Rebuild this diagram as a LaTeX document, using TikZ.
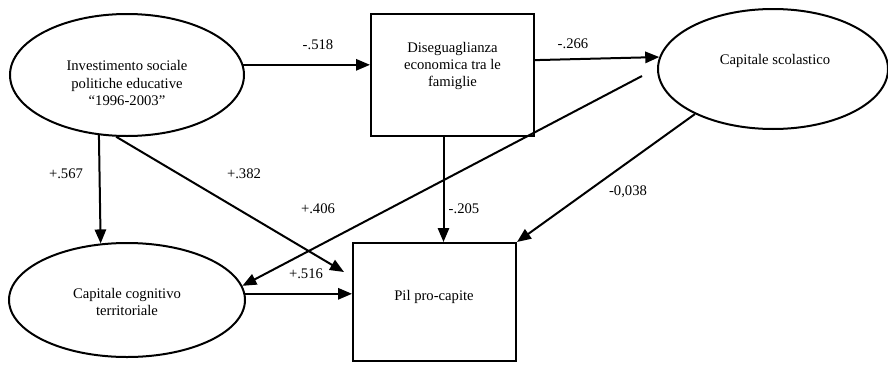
\documentclass[tikz,border=0pt]{standalone}
\usepackage{fontspec}
\setmainfont{Liberation Serif}
\usetikzlibrary{shapes.geometric,arrows.meta,calc}
\begin{document}
\begin{tikzpicture}[x=0.75pt,y=-0.75pt,
  every node/.style={font=\fontsize{11}{12.8}\selectfont},
  ell/.style={draw,ellipse,line width=1.5pt,inner sep=0pt},
  boxx/.style={draw,rectangle,line width=1.5pt,inner sep=0pt},
  txt/.style={align=center,inner sep=0pt},
  lab/.style={inner sep=0pt},
  arr/.style={line width=1.5pt,-{Triangle[length=10.5pt,width=8.5pt]}}]
\useasboundingbox (0,0) rectangle (888,364);
% shapes
\node[ell,minimum width=175.5pt,minimum height=91.5pt] (e1) at (127,75) {};
\node[txt] (t1) at (127,83) {Investimento sociale\\politiche educative\\``1996-2003''};
\node[boxx,minimum width=122.25pt,minimum height=91.5pt] (d) at (452.5,75) {};
\node[txt] (td) at (452.5,66) {Diseguaglianza\\economica tra le\\famiglie};
\node[ell,minimum width=172.5pt,minimum height=90pt] (e2) at (773,69) {};
\node[txt] (t2) at (775,61) {Capitale scolastico};
\node[ell,minimum width=177pt,minimum height=85.5pt] (e3) at (127,300) {};
\node[txt] (t3) at (127,302) {Capitale cognitivo\\territoriale};
\node[boxx,minimum width=122.25pt,minimum height=88.5pt] (p) at (434.5,302) {};
\node[txt] (tp) at (434,297) {Pil pro-capite};
% free ends
\coordinate (p382) at ($(p.west)+(-8,-30)$);
\coordinate (s406) at ($(e2.west)+(-15,7)$);
\coordinate (s205) at ($(d.south)+(-9,0)$);
% connectors
\draw[arr] (e1.5) -- (e1.5 -| d.west);
\draw[arr] ($(d.north east)!0.38!(d.south east)$) -- (e2.174);
\draw[arr] (e1.245.6) -- (e3.115.9);
\draw[arr] (e1.260.7) -- (p382);
\draw[arr] (s406) -- (e3.7);
\draw[arr] (s205) -- (s205 |- p.north);
\draw[arr] (e2.210.5) -- (p.north east);
\draw[arr] (e3.3) -- (e3.3 -| p.west);
% labels
\node[lab] (l518) at (318,45) {-.518};
\node[lab] (l266) at (573,44) {-.266};
\node[lab] (l567) at (66,174) {+.567};
\node[lab] (l382) at (244,174) {+.382};
\node[lab] (l406) at (318,209) {+.406};
\node[lab] (l205) at (464,209) {-.205};
\node[lab] (l038) at (628,192) {-0,038};
\node[lab] (l516) at (306,274) {+.516};
\end{tikzpicture}
\end{document}
